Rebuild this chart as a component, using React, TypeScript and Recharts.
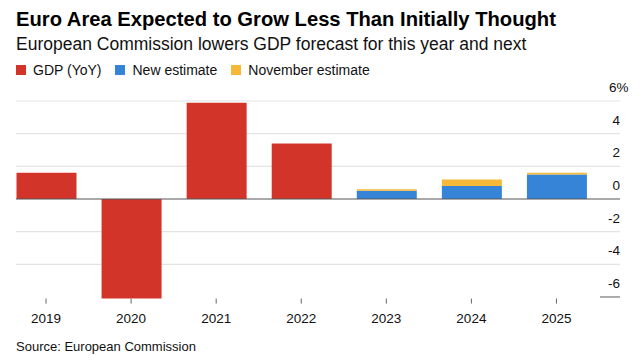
import React from 'react'
import { BarChart, Bar, XAxis, YAxis, CartesianGrid, ReferenceLine } from 'recharts'

// ─── Palette ────────────────────────────────────────────────────────────────
const RED    = '#d3342a'
const BLUE   = '#3584d8'
const YELLOW = '#f5b937'
const GRID   = '#e4e4e4'
const AXIS   = '#555555'
const FONT   = '"Liberation Sans", Arial, sans-serif'

// ─── Data ───────────────────────────────────────────────────────────────────
const YEARS   = ['2019', '2020', '2021', '2022', '2023', '2024', '2025']
const GDP_YOY = [1.6, -6.1, 5.9, 3.4, null, null, null]
const NEW_EST = [null, null, null, null, 0.5, 0.8, 1.5]
const NOV_EST = [null, null, null, null, 0.6, 1.2, 1.6]
const Y_TICKS = [-6, -4, -2, 0, 2, 4, 6]
const Y_DOMAIN: [number, number] = [-6.1, 6]

const LEGEND = [
  { label: 'GDP (YoY)', color: RED },
  { label: 'New estimate', color: BLUE },
  { label: 'November estimate', color: YELLOW },
]

// yellow sits on top of blue: the extra the November estimate had
const data = YEARS.map((year, i) => {
  const nu = NEW_EST[i]
  const nov = NOV_EST[i]
  return {
    year,
    gdp: GDP_YOY[i],
    fresh: nu,
    novGap: nu != null && nov != null ? nov - nu : null,
  }
})

// ─── Layout ─────────────────────────────────────────────────────────────────
const W = 644
const H = 361
const TOP = 101
const BOTTOM_Y = 298.6
const GRID_X1 = 16
const GRID_X2 = 620

function YTick({ y, payload }: { y?: number; payload?: { value: number } }) {
  if (y == null || !payload) return null
  const v = payload.value
  const ty = y - 13.5
  if (v === 6) {
    return <text x={609} y={ty} dominantBaseline="central" fontSize={13.5} fontFamily={FONT} fill="#111">6%</text>
  }
  return (
    <text x={GRID_X2} y={ty} textAnchor="end" dominantBaseline="central" fontSize={13.5} fontFamily={FONT} fill="#111">
      {v}
    </text>
  )
}

// light gridlines, starting at the first bar's edge; zero and -6 are drawn separately
function GridLine(p: { y1: number; y2: number; index?: number }) {
  const unit = (BOTTOM_Y - TOP) / (Y_DOMAIN[1] - Y_DOMAIN[0])
  const v = Y_DOMAIN[1] - (p.y1 - TOP) / unit
  if (Math.abs(v) < 0.3 || v < -5.7) return <g key={`g${p.index}`} />
  return <line key={`g${p.index}`} x1={GRID_X1} x2={GRID_X2} y1={p.y1} y2={p.y2} stroke={GRID} strokeWidth={1.2} />
}

export default function App() {
  return (
    <div style={{ position: 'absolute', left: 0, top: 0, width: W, height: H, background: '#fff', fontFamily: FONT, color: '#000' }}>
      <div style={{ position: 'absolute', left: 16, top: 9, fontSize: 20.2, lineHeight: '20px', fontWeight: 700, whiteSpace: 'nowrap' }}>
        Euro Area Expected to Grow Less Than Initially Thought
      </div>
      <div style={{ position: 'absolute', left: 16, top: 36.2, fontSize: 17.5, lineHeight: '17.5px', whiteSpace: 'nowrap', color: '#111' }}>
        European Commission lowers GDP forecast for this year and next
      </div>
      <div style={{ position: 'absolute', left: 16, top: 63, display: 'flex', alignItems: 'center', fontSize: 14, lineHeight: '14px', whiteSpace: 'nowrap', color: '#111' }}>
        {LEGEND.map((l) => (
          <span key={l.label} style={{ display: 'flex', alignItems: 'center', marginRight: 14 }}>
            <span style={{ width: 10, height: 10, background: l.color, marginRight: 7, display: 'inline-block' }} />
            {l.label}
          </span>
        ))}
      </div>
      <div style={{ position: 'absolute', left: 16, top: 340, fontSize: 13, lineHeight: '13px', whiteSpace: 'nowrap', color: '#111' }}>
        Source: European Commission
      </div>

      <div style={{ position: 'absolute', left: 0, top: 0 }}>
        <BarChart width={W} height={H} data={data} margin={{ top: TOP, right: 0, left: 3.5, bottom: H - BOTTOM_Y - 30 }}>
          <CartesianGrid vertical={false} horizontal={GridLine as never} />
          <XAxis
            dataKey="year"
            height={30}
            padding={{ left: 0, right: 21 }}
            axisLine={false}
            tickLine={{ stroke: '#666' }}
            tickSize={5}
            tickMargin={9.5}
            interval={0}
            tick={{ fill: '#111', fontSize: 13.5, fontFamily: FONT }}
          />
          <YAxis
            orientation="right"
            width={24}
            domain={Y_DOMAIN}
            ticks={Y_TICKS}
            interval={0}
            axisLine={false}
            tickLine={false}
            tick={<YTick />}
          />
          <Bar dataKey="gdp" stackId="a" fill={RED} barSize={60} isAnimationActive={false} />
          <Bar dataKey="fresh" stackId="a" fill={BLUE} barSize={60} isAnimationActive={false} />
          <Bar dataKey="novGap" stackId="a" fill={YELLOW} barSize={60} isAnimationActive={false} />
          <ReferenceLine
            y={0}
            shape={(p: { y1: number }) => <line x1={GRID_X1} x2={GRID_X2} y1={p.y1} y2={p.y1} stroke={AXIS} strokeWidth={1.2} />}
          />
          <ReferenceLine
            y={-6}
            shape={(p: { y1: number }) => <line x1={600} x2={GRID_X2} y1={p.y1} y2={p.y1} stroke="#777" strokeWidth={1.2} />}
          />
        </BarChart>
      </div>
    </div>
  )
}
